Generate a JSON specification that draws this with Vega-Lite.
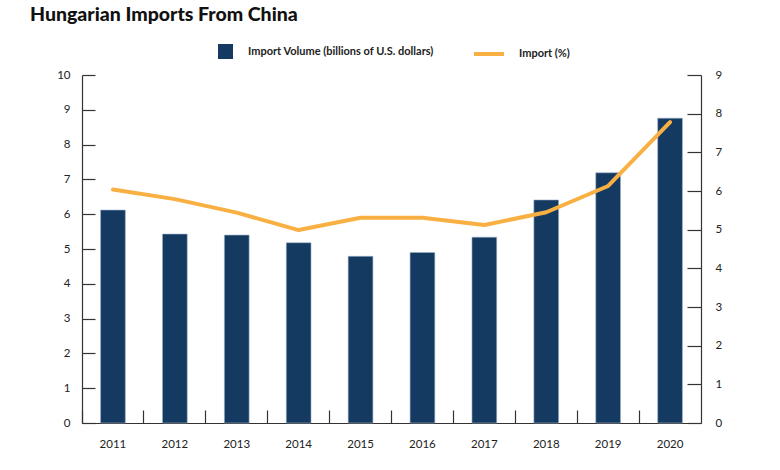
{
  "$schema": "https://vega.github.io/schema/vega-lite/v6.json",
  "width": 619,
  "height": 348,
  "autosize": "none",
  "padding": {"left": 82, "top": 75, "right": 79, "bottom": 47},
  "background": "white",
  "title": {
    "text": "Hungarian Imports From China",
    "anchor": "start",
    "frame": "group",
    "dx": -52,
    "dy": 33,
    "offset": 30,
    "baseline": "alphabetic",
    "font": "Lato",
    "fontSize": 19.5,
    "fontWeight": 900,
    "color": "#111111"
  },
  "config": {
    "view": {"stroke": null},
    "axis": {
      "grid": false,
      "domainColor": "#333333",
      "domainWidth": 1.2,
      "tickColor": "#333333",
      "tickWidth": 1.2,
      "labelFont": "Lato",
      "labelFontSize": 11.5,
      "labelColor": "#222222",
      "titleFont": "Lato"
    },
    "legend": {
      "labelFont": "Lato",
      "labelFontSize": 11,
      "labelFontWeight": "bold",
      "labelColor": "#222222",
      "labelLimit": 400
    }
  },
  "data": {
    "values": [
      {"year": "2011", "volume": 6.12, "pct": 6.04},
      {"year": "2012", "volume": 5.43, "pct": 5.79},
      {"year": "2013", "volume": 5.40, "pct": 5.44},
      {"year": "2014", "volume": 5.18, "pct": 4.99},
      {"year": "2015", "volume": 4.79, "pct": 5.31},
      {"year": "2016", "volume": 4.90, "pct": 5.31},
      {"year": "2017", "volume": 5.34, "pct": 5.12},
      {"year": "2018", "volume": 6.41, "pct": 5.45},
      {"year": "2019", "volume": 7.19, "pct": 6.13},
      {"year": "2020", "volume": 8.76, "pct": 7.78}
    ]
  },
  "encoding": {
    "x": {
      "field": "year",
      "type": "ordinal",
      "scale": {"paddingInner": 0, "paddingOuter": 0},
      "axis": {
        "title": null,
        "labelAngle": 0,
        "bandPosition": 0,
        "tickSize": -13,
        "labelPadding": 28,
        "labelAlign": "center"
      }
    }
  },
  "layer": [
    {
      "mark": {"type": "bar", "width": {"band": 0.4}, "stroke": "#9fb3c8", "strokeWidth": 0.6},
      "encoding": {
        "y": {
          "field": "volume",
          "type": "quantitative",
          "scale": {"domain": [0, 10]},
          "axis": {
            "title": null,
            "orient": "left",
            "values": [0,1,2,3,4,5,6,7,8,9,10],
            "tickSize": -13,
            "labelPadding": 25
          }
        },
        "fill": {
          "datum": "Import Volume (billions of U.S. dollars)",
          "type": "nominal",
          "scale": {"range": ["#143A62"]},
          "legend": {
            "title": null,
            "orient": "none",
            "legendX": 136,
            "legendY": -31,
            "symbolType": "square",
            "symbolSize": 225,
            "symbolStrokeWidth": 0,
            "labelOffset": 15
          }
        }
      }
    },
    {
      "mark": {"type": "line", "strokeWidth": 4, "strokeCap": "round", "strokeJoin": "round"},
      "encoding": {
        "y": {
          "field": "pct",
          "type": "quantitative",
          "scale": {"domain": [0, 9]},
          "axis": {
            "title": null,
            "orient": "right",
            "values": [0,1,2,3,4,5,6,7,8,9],
            "tickSize": -14,
            "labelPadding": 28
          }
        },
        "stroke": {
          "datum": "Import (%)",
          "type": "nominal",
          "scale": {"range": ["#F9B042"]},
          "legend": {
            "title": null,
            "orient": "none",
            "legendX": 390,
            "legendY": -38,
            "symbolType": "stroke",
            "symbolSize": 900,
            "symbolStrokeWidth": 4,
            "labelOffset": 13
          }
        }
      }
    }
  ],
  "resolve": {"scale": {"y": "independent"}}
}
